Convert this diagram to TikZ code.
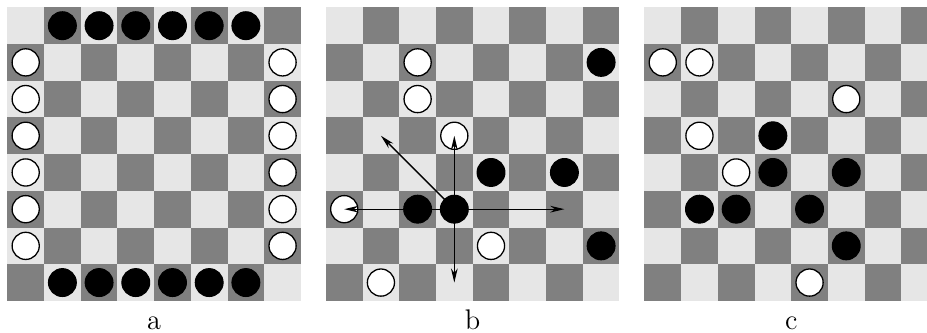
\documentclass[tikz,border=0pt]{standalone}
\usepackage{tikz}
\usetikzlibrary{arrows.meta,positioning}

\definecolor{lightsq}{HTML}{E6E6E6}
\definecolor{darksq}{HTML}{808080}

\begin{document}
\begin{tikzpicture}[
		x=0.5cm, y=0.5cm,
		>={Stealth[length=5.5pt,width=2.6pt]},
		font=\fontsize{11}{13}\selectfont,
		wpiece/.style={circle, draw=black, fill=white, line width=0.5pt, minimum size=0.37cm, inner sep=0pt},
		bpiece/.style={circle, draw=black, fill=black, minimum size=0.38cm, inner sep=0pt},
		move/.style={->, line width=0.5pt},
		caption/.style={anchor=base, inner sep=0pt}
		]
		
		\useasboundingbox (-0.2,-0.87) rectangle (25.06,8.2);
		
		% Checkerboards
		\foreach \bx in {0,8.68,17.36} {
			\fill[lightsq] (\bx,0) rectangle ++(8,8);
			\foreach \c in {0,...,7}
				\foreach \r in {0,...,7} {
					\pgfmathtruncatemacro\odd{mod(\c+\r,2)}
					\ifnum\odd=0 \fill[darksq] (\bx+\c,\r) rectangle ++(1,1); \fi
				}
		}
		
		% Board a: starting position
		\foreach \c in {1,...,6} {
			\node[bpiece] (a-top-\c) at (\c+0.5,7.5) {};
			\node[bpiece] (a-bot-\c) at (\c+0.5,0.5) {};
		}
		\foreach \r in {1,...,6} {
			\node[wpiece] (a-left-\r) at (0.5,\r+0.5) {};
			\node[wpiece] (a-right-\r) at (7.5,\r+0.5) {};
		}
		\node[caption] (cap-a) at (4,-0.78) {a};
		
		% Board b: moves of one piece
		\begin{scope}[shift={(8.68,0)}]
			\node[wpiece] (b-w1) at (2.5,6.5) {};
			\node[bpiece] (b-b1) at (7.5,6.5) {};
			\node[wpiece] (b-w2) at (2.5,5.5) {};
			\node[wpiece] (b-up) at (3.5,4.5) {};
			\node[bpiece] (b-b2) at (4.5,3.5) {};
			\node[bpiece] (b-b3) at (6.5,3.5) {};
			\node[wpiece] (b-left) at (0.5,2.5) {};
			\node[bpiece] (b-b4) at (2.5,2.5) {};
			\node[bpiece] (b-mid) at (3.5,2.5) {};
			\node[wpiece] (b-w3) at (4.5,1.5) {};
			\node[bpiece] (b-b5) at (7.5,1.5) {};
			\node[wpiece] (b-w4) at (1.5,0.5) {};
			\coordinate (b-right) at (6.5,2.5);
			\coordinate (b-down) at (3.5,0.5);
			\coordinate (b-diag) at (1.5,4.5);
			
			\draw[move] (b-mid.center) -- (b-up.center);
			\draw[move] (b-mid.center) -- (b-left.center);
			\draw[move] (b-mid.center) -- (b-right);
			\draw[move] (b-mid.center) -- (b-down);
			\draw[move] (b-mid.center) -- (b-diag);
			
			\node[caption] (cap-b) at (4,-0.78) {b};
		\end{scope}
		
		% Board c: a later position
		\begin{scope}[shift={(17.36,0)}]
			\node[wpiece] (c-w1) at (0.5,6.5) {};
			\node[wpiece] (c-w2) at (1.5,6.5) {};
			\node[wpiece] (c-w3) at (5.5,5.5) {};
			\node[wpiece] (c-w4) at (1.5,4.5) {};
			\node[bpiece] (c-b1) at (3.5,4.5) {};
			\node[wpiece] (c-w5) at (2.5,3.5) {};
			\node[bpiece] (c-b2) at (3.5,3.5) {};
			\node[bpiece] (c-b3) at (5.5,3.5) {};
			\node[bpiece] (c-b4) at (1.5,2.5) {};
			\node[bpiece] (c-b5) at (2.5,2.5) {};
			\node[bpiece] (c-b6) at (4.5,2.5) {};
			\node[bpiece] (c-b7) at (5.5,1.5) {};
			\node[wpiece] (c-w6) at (4.5,0.5) {};
			
			\node[caption] (cap-c) at (4,-0.78) {c};
		\end{scope}
		
	\end{tikzpicture}
\end{document}
